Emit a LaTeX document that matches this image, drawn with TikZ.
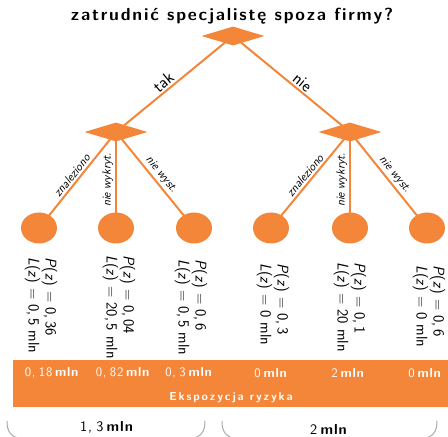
\documentclass[tikz,border=0pt]{standalone}
\usepackage{fontspec}
\usetikzlibrary{shapes.geometric}
\renewcommand\familydefault{\sfdefault}
\definecolor{accent}{RGB}{243,134,57}
\definecolor{bracegray}{RGB}{170,170,170}
% letter-spaced word: puts a kern of #1 after every token of #2
\makeatletter
\newcommand\spreadword[2]{\@tfor\sp@tok:=#2\do{\sp@tok\kern#1}}
\makeatother
\newcommand\mlnval[2]{\spreadword{#1}{#2}\,\textbf{\spreadword{#1}{mln}}}
\begin{document}
\begin{tikzpicture}[x=1pt,y=1pt,
  decision/.style={shape=diamond, fill=accent, inner sep=0pt, aspect=3.3,
    minimum width=63pt, minimum height=19pt},
  chance/.style={shape=ellipse, fill=accent, inner sep=0pt,
    minimum width=36pt, minimum height=31pt},
  branch/.style={draw=accent, line width=2pt},
  mainlabel/.style={font=\fontsize{17}{19}\selectfont, inner sep=1.5pt, sloped, above, pos=0.55},
  sublabel/.style={font=\fontsize{12}{14}\selectfont\itshape, inner sep=2pt, sloped, above, pos=0.5},
  leaf/.style={rotate=-90, anchor=west, align=left, inner sep=0pt,
    font=\fontsize{15.5}{17}\selectfont},
  bandtext/.style={text=white, inner sep=0pt, font=\fontsize{13}{15}\selectfont},
  total/.style={inner sep=0pt, font=\fontsize{14.5}{17}\selectfont},
  bracket/.style={draw=bracegray, line width=1pt}
]
\useasboundingbox (0,0) rectangle (448,437);
\clip (0,0) rectangle (448,437);

% question
\node[inner sep=0pt, font=\fontsize{17.5}{20}\selectfont\bfseries] (title) at (233,421)
  {\spreadword{1.8pt}{zatrudnić} \spreadword{1.8pt}{specjalistę}
   \spreadword{1.8pt}{spoza} \spreadword{1.8pt}{firmy?}};

% decision nodes
\node[decision] (root) at (233,401) {};
\node[decision] (yes) at (116,305) {};
\node[decision] (no) at (350,305) {};

% outcome nodes
\node[chance] (y1) at (39,209) {};
\node[chance] (y2) at (116,209) {};
\node[chance] (y3) at (194,209) {};
\node[chance] (n1) at (271,209) {};
\node[chance] (n2) at (350,209) {};
\node[chance] (n3) at (427,209) {};

% branches with their labels
\draw[branch] (root.center) -- node[mainlabel] (ltak) {tak} (yes.center);
\draw[branch] (root.center) -- node[mainlabel] (lnie) {nie} (no.center);
\draw[branch] (y1.center) -- node[sublabel] (ly1) {znaleziono} (yes.center);
\draw[branch] (y2.center) -- node[sublabel] (ly2) {nie wykryt.} (yes.center);
\draw[branch] (y3.center) -- node[sublabel] (ly3) {nie wyst.} (yes.center);
\draw[branch] (n1.center) -- node[sublabel] (ln1) {znaleziono} (no.center);
\draw[branch] (n2.center) -- node[sublabel] (ln2) {nie wykryt.} (no.center);
\draw[branch] (n3.center) -- node[sublabel] (ln3) {nie wyst.} (no.center);

% probabilities and losses
\node[leaf] (t1) at (41,180) {\textit{P}(\textit{z}) = 0,\,36\\\textit{L}(\textit{z}) = 0,\,5 mln};
\node[leaf] (t2) at (119,182) {\textit{P}(\textit{z}) = 0,\,04\\\textit{L}(\textit{z}) = 20,\,5 mln};
\node[leaf] (t3) at (191,178) {\textit{P}(\textit{z}) = 0,\,6\\\textit{L}(\textit{z}) = 0,\,5 mln};
\node[leaf] (t4) at (273,174) {\textit{P}(\textit{z}) = 0,\,3\\\textit{L}(\textit{z}) = 0 mln};
\node[leaf] (t5) at (350,175) {\textit{P}(\textit{z}) = 0,\,1\\\textit{L}(\textit{z}) = 20 mln};
\node[leaf] (t6) at (429,172) {\textit{P}(\textit{z}) = 0,\,6\\\textit{L}(\textit{z}) = 0 mln};

% exposure band
\fill[accent] (13,30) rectangle (448,77);
\node[bandtext] (e1) at (52,64) {\mlnval{0.7pt}{0,\,18}};
\node[bandtext] (e2) at (123,64) {\mlnval{0.7pt}{0,\,82}};
\node[bandtext] (e3) at (189,64) {\mlnval{0.7pt}{0,\,3}};
\node[bandtext] (e4) at (271,64) {\mlnval{0.7pt}{0}};
\node[bandtext] (e5) at (348,64) {\mlnval{0.7pt}{2}};
\node[bandtext] (e6) at (425,64) {\mlnval{0.7pt}{0}};
\node[bandtext, font=\fontsize{11.5}{14}\selectfont\bfseries] (band) at (232,39)
  {\spreadword{1.9pt}{Ekspozycja} \spreadword{1.9pt}{ryzyka}};

% totals per decision
\draw[bracket] (7,16) .. controls (7,6) and (10,0) .. (22,-2) -- (190,-2)
  .. controls (202,0) and (205,6) .. (205,16);
\draw[bracket] (222,16) .. controls (222,6) and (225,0) .. (237,-2) -- (422,-2)
  .. controls (434,0) and (437,6) .. (437,16);
\node[total] (sumyes) at (107,10) {\mlnval{0.9pt}{1,\,3}};
\node[total] (sumno) at (329,8) {\mlnval{0.9pt}{2}};
\end{tikzpicture}
\end{document}
